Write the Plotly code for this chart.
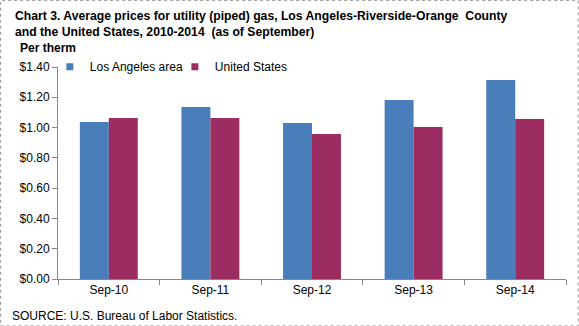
import plotly.graph_objects as go

categories = ["Sep-10", "Sep-11", "Sep-12", "Sep-13", "Sep-14"]
la_values = [1.037, 1.136, 1.030, 1.182, 1.314]
us_values = [1.063, 1.063, 0.958, 1.004, 1.057]
y_ticks = [0, 0.2, 0.4, 0.6, 0.8, 1.0, 1.2, 1.4]
series_names = ["Los Angeles area", "United States"]
series_colors = ["#4A7EBB", "#9B2D62"]

FONT = "Liberation Sans, Arial, sans-serif"

fig = go.Figure()
for vals, name, col in zip([la_values, us_values], series_names, series_colors):
    fig.add_trace(go.Bar(x=categories, y=vals, name=name, showlegend=False,
                         marker=dict(color=col, line=dict(width=0))))
# legend proxies with small square markers
for name, col in zip(series_names, series_colors):
    fig.add_trace(go.Scatter(x=[None], y=[None], mode="markers", name=name,
                             marker=dict(symbol="square", size=7, color=col)))

fig.update_layout(
    width=579, height=326,
    margin=dict(l=58, r=13, t=67, b=47),
    paper_bgcolor="white", plot_bgcolor="white",
    barmode="group", bargap=0.43, bargroupgap=0,
    font=dict(family=FONT, size=12, color="black"),
    showlegend=True,
    legend=dict(orientation="h", x=-0.016, y=1.07, xanchor="left", yanchor="top",
                font=dict(size=12), bgcolor="rgba(0,0,0,0)",
                itemwidth=30, entrywidth=80, entrywidthmode="pixels"),
    xaxis=dict(showline=True, linecolor="#888888", linewidth=1,
               ticks="outside", tickson="boundaries", ticklen=5, tickcolor="#888888",
               tickfont=dict(size=12), showgrid=False),
    yaxis=dict(range=[0, 1.4], tickvals=y_ticks, tickformat="$.2f",
               showline=True, linecolor="#888888", linewidth=1,
               ticks="outside", ticklen=5, tickcolor="#888888",
               showgrid=False, zeroline=False, tickfont=dict(size=12)),
    annotations=[
        dict(text="<b>Chart 3. Average prices for utility (piped) gas, Los Angeles-Riverside-Orange  County<br>and the United States, 2010-2014  (as of September)</b>",
             xref="paper", yref="paper", x=-0.088, y=1.285, xanchor="left", yanchor="top",
             showarrow=False, align="left", font=dict(size=12.2, family=FONT)),
        dict(text="<b>Per therm</b>", xref="paper", yref="paper", x=-0.078, y=1.09,
             xanchor="left", yanchor="middle", showarrow=False, font=dict(size=12, family=FONT)),
        dict(text="SOURCE: U.S. Bureau of Labor Statistics.", xref="paper", yref="paper",
             x=-0.094, y=-0.175, xanchor="left", yanchor="middle", showarrow=False,
             font=dict(size=12, family=FONT)),
    ],
    shapes=[dict(type="rect", xref="paper", yref="paper", x0=-0.113, x1=1.024, y0=-0.221, y1=1.314,
                 line=dict(color="#999999", width=1, dash="dot"))],
)

fig.write_html("out.html")
